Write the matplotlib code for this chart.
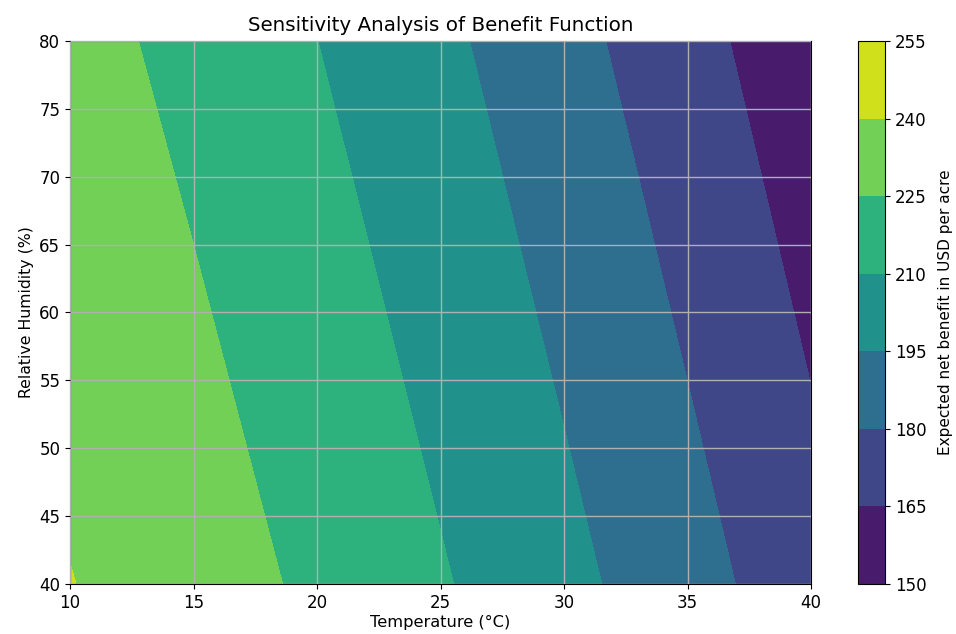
import numpy as np
import matplotlib.pyplot as plt

# grid
temperature = [10, 15, 20, 25, 30, 35, 40]          # deg C
humidity = [40, 80]                                  # %
benefit_h40 = [240.4, 232.0, 222.3, 211.3, 199.1, 185.7, 171.0]
benefit_h80 = [230.2, 220.8, 210.1, 198.1, 184.9, 170.4, 154.6]
levels = [150, 165, 180, 195, 210, 225, 240, 255]

T, H = np.meshgrid(temperature, humidity)
Z = np.array([benefit_h40, benefit_h80])

fig = plt.figure(figsize=(9.56, 6.34), dpi=100)
ax = fig.add_axes([70 / 956, 50 / 634, 741 / 956, 543 / 634])
cax = fig.add_axes([858 / 956, 50 / 634, 27 / 956, 543 / 634])

cs = ax.contourf(T, H, Z, levels=levels, cmap='viridis')
ax.grid(True, color='#b0b0b0', linewidth=1)
ax.set_axisbelow(False)
ax.set_xlim(10, 40)
ax.set_ylim(40, 80)
ax.set_xlabel('Temperature (°C)', fontsize=11.7, labelpad=2)
ax.set_ylabel('Relative Humidity (%)', fontsize=11.3)
ax.set_title('Sensitivity Analysis of Benefit Function', fontsize=14.3, pad=7)
ax.tick_params(labelsize=12)

cbar = fig.colorbar(cs, cax=cax)
cbar.set_label('Expected net benefit in USD per acre', fontsize=11, labelpad=8)
cbar.ax.tick_params(labelsize=12)

fig.savefig('out.png', dpi=100)
